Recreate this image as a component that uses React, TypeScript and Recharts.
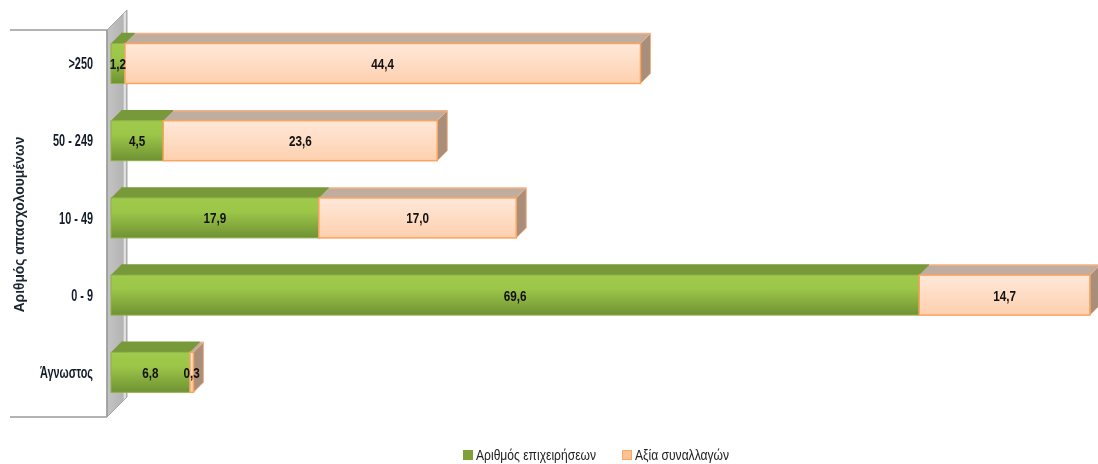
import React from "react";
import { BarChart, Bar, XAxis, YAxis, Legend, LabelList, usePlotArea } from "recharts";

const categories = [">250", "50 - 249", "10 - 49", "0 - 9", "Άγνωστος"];
const businesses = [1.2, 4.5, 17.9, 69.6, 6.8];
const transactions = [44.4, 23.6, 17.0, 14.7, 0.3];
const seriesNames = ["Αριθμός επιχειρήσεων", "Αξία συναλλαγών"];
const axisTitle = "Αριθμός απασχολουμένων";
const data = categories.map((c, i) => ({ c, a: businesses[i], b: transactions[i] }));

const FONT = "'Liberation Sans', sans-serif";
const DEPTH = 10;

const fmt = (v: any) => Number(v).toFixed(1).replace(".", ",");

function make3D(front: string, stroke: string, top: string, side: string, topEdge: string, sw: number) {
  return (p: any) => {
    const { x, y, width: w, height: h } = p;
    return (
      <g>
        <path d={`M${x},${y}L${x + w},${y}L${x + w + DEPTH},${y - DEPTH}L${x + DEPTH},${y - DEPTH}Z`} fill={top} />
        <path d={`M${x + DEPTH},${y - DEPTH}L${x + w + DEPTH},${y - DEPTH}`} stroke={topEdge} strokeWidth={1.5} fill="none" />
        <path d={`M${x + w},${y}L${x + w + DEPTH},${y - DEPTH}L${x + w + DEPTH},${y + h - DEPTH}L${x + w},${y + h}Z`} fill={side} stroke={topEdge} strokeWidth={1} />
        <rect x={x} y={y} width={w} height={h} fill={front} stroke={stroke} strokeWidth={sw} />
      </g>
    );
  };
}

const greenShape = make3D("url(#greenG)", "#8fb04a", "#77993a", "#6a8a33", "#77993a", 1);
const peachShape = make3D("url(#peachG)", "#f9a45f", "#bfae9f", "#a98f7a", "#f5b083", 1.5);

function Wall() {
  const area = usePlotArea();
  if (!area) return null;
  const fx = area.x - 4;
  const t = area.y + 5.5;
  const b = area.y + area.height + 6.5;
  const d = 20;
  return (
    <g>
      <defs>
        <linearGradient id="greenG" x1="0" y1="0" x2="0" y2="1">
          <stop offset="0" stopColor="#9fca4a" />
          <stop offset="0.35" stopColor="#9cc648" />
          <stop offset="1" stopColor="#6f9233" />
        </linearGradient>
        <linearGradient id="peachG" x1="0" y1="0" x2="0" y2="1">
          <stop offset="0" stopColor="#ffe8d9" />
          <stop offset="1" stopColor="#fdd0ae" />
        </linearGradient>
        <linearGradient id="wallG" x1="0" y1="0" x2="1" y2="0">
          <stop offset="0" stopColor="#c4c4c4" />
          <stop offset="0.8" stopColor="#b4b4b4" />
          <stop offset="0.9" stopColor="#f2f2f2" />
          <stop offset="1" stopColor="#a0a0a0" />
        </linearGradient>
      </defs>
      <path d={`M${fx},${t}L${fx + d},${t - d}L${fx + d},${b - d}L${fx},${b}Z`} fill="url(#wallG)" stroke="#a6a6a6" />
      <path d={`M10,${t}L${fx},${t}`} fill="none" stroke="#9a9a9a" strokeWidth={1.5} />
      <path d={`M10,${b}L${fx},${b}`} fill="none" stroke="#9a9a9a" strokeWidth={1.5} />
      <path d={`M${fx},${t}L${fx},${b}`} fill="none" stroke="#9a9a9a" strokeWidth={1.5} />
      <text
        transform={`translate(24,${area.y + 200}) rotate(-90) scale(0.92,1)`}
        textAnchor="middle"
        style={{ fontFamily: FONT, fontWeight: 700, fontSize: 15, fill: "#1a2433" }}
      >
        {axisTitle}
      </text>
    </g>
  );
}

function CategoryTick(p: any) {
  return (
    <text
      transform={`translate(${p.x},${p.y + 6}) scale(0.66,1)`}
      textAnchor="end"
      style={{ fontFamily: FONT, fontWeight: 700, fontSize: 16.5, fill: "#141c2a" }}
    >
      {p.payload.value}
    </text>
  );
}

function ValueLabel(p: any) {
  const { x, y, width: w, height: h, value } = p;
  return (
    <text
      transform={`translate(${x + w / 2},${y + h / 2 + 5.5}) scale(0.78,1)`}
      textAnchor="middle"
      style={{ fontFamily: FONT, fontWeight: 700, fontSize: 15, fill: "#111" }}
    >
      {fmt(value)}
    </text>
  );
}

function LegendContent() {
  const items = [
    { name: seriesNames[0], color: "#7f9f38", border: "#7f9f38", x: 463 },
    { name: seriesNames[1], color: "#fbc296", border: "#f9a765", x: 622 },
  ];
  return (
    <div style={{ position: "relative", height: 16 }}>
      {items.map((it) => (
        <div key={it.name} style={{ position: "absolute", left: it.x, top: 0, display: "flex", alignItems: "center", whiteSpace: "nowrap", fontFamily: FONT, fontSize: 15.5, color: "#222" }}>
          <span style={{ width: 8, height: 8, background: it.color, border: `1px solid ${it.border}`, marginRight: 3, display: "inline-block" }} />
          <span style={{ display: "inline-block", transform: "scaleX(0.78)", transformOrigin: "left center" }}>{it.name}</span>
        </div>
      ))}
    </div>
  );
}

export default function App() {
  return (
    <div style={{ position: "absolute", left: 0, top: 0, width: 1098, height: 464, background: "#fff", filter: "blur(0.45px)" }}>
      <BarChart
        width={1098}
        height={464}
        data={data}
        layout="vertical"
        barSize={40}
        margin={{ top: 24.5, right: 0, bottom: 37.5, left: 0 }}
      >
        <Wall />
        <XAxis type="number" domain={[0, 85]} hide />
        <YAxis
          type="category"
          dataKey="c"
          width={111}
          axisLine={false}
          tickLine={false}
          tickSize={0}
          tickMargin={18}
          interval={0}
          tick={<CategoryTick />}
        />
        <Legend verticalAlign="bottom" wrapperStyle={{ left: 0, width: 1098, bottom: 2 }} content={<LegendContent />} />
        <Bar dataKey="a" name={seriesNames[0]} stackId="s" isAnimationActive={false} shape={greenShape} fill="#7f9f38">
          <LabelList dataKey="a" content={<ValueLabel />} />
        </Bar>
        <Bar dataKey="b" name={seriesNames[1]} stackId="s" isAnimationActive={false} shape={peachShape} fill="#fbc296">
          <LabelList dataKey="b" content={<ValueLabel />} />
        </Bar>
      </BarChart>
    </div>
  );
}
